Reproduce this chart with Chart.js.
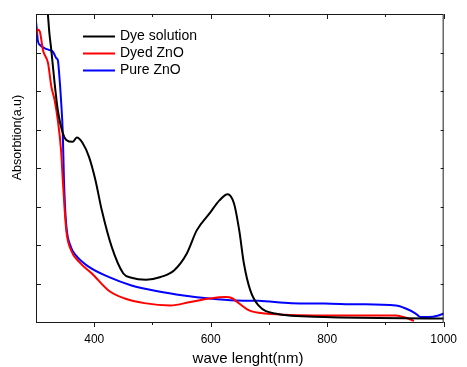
<!DOCTYPE html>
<html lang="en">
<head>
  <meta charset="UTF-8">
  <title>Absorption spectra</title>
  <script src="https://cdn.jsdelivr.net/npm/chart.js"></script>
  <style>
    body { margin: 0; background: #fff; }
  </style>
</head>
<body>
  <canvas id="grafico" width="467" height="367"></canvas>
  <script>
    // wavelength (nm) and absorbance (a.u)
    const dyeWave = [300, 316, 320, 323, 326, 332, 337.5, 346, 352, 363, 370, 380, 391, 402, 413, 430, 450, 464, 489, 514, 537, 559, 576, 598, 615, 629, 640, 649, 657, 668, 682, 710, 795, 1000];
    const dyeAbs  = [8.5, 8.4, 8.05, 7.5, 7.1, 6.2, 5.5, 4.91, 4.73, 4.68, 4.79, 4.65, 4.29, 3.69, 2.90, 1.95, 1.26, 1.15, 1.10, 1.17, 1.34, 1.78, 2.38, 2.82, 3.16, 3.32, 3.08, 2.38, 1.52, 0.82, 0.43, 0.22, 0.13, 0.09];

    const dyedWave = [300, 303, 306.7, 312, 320.7, 326.4, 332, 337.5, 343, 346, 352, 360, 374, 396, 424.5, 452.6, 486, 531, 565, 598, 626, 635, 649, 666, 694, 795, 918, 935, 949];
    const dyedAbs  = [7.41, 7.6, 7.54, 7.06, 6.72, 6.11, 5.76, 5.24, 4.46, 3.69, 2.38, 1.87, 1.56, 1.26, 0.82, 0.61, 0.49, 0.43, 0.52, 0.61, 0.65, 0.63, 0.48, 0.30, 0.22, 0.17, 0.17, 0.11, 0.03];

    const pureWave = [300, 302, 303, 307, 315, 323.5, 329, 335, 337.5, 340, 343, 346, 348, 351.7, 360, 368.5, 391, 424.5, 464, 508.6, 553.6, 598, 643, 682, 738.7, 795, 851, 918, 935, 952, 960, 974, 991, 1000];
    const pureAbs  = [7.80, 7.5, 7.32, 7.19, 7.11, 7.06, 7.02, 6.85, 6.80, 6.41, 5.76, 4.9, 3.69, 2.56, 1.95, 1.73, 1.43, 1.17, 0.95, 0.80, 0.69, 0.61, 0.56, 0.55, 0.49, 0.48, 0.46, 0.43, 0.35, 0.22, 0.13, 0.13, 0.17, 0.22];

    const seriesNames = ['Dye solution', 'Dyed ZnO', 'Pure ZnO'];
    const seriesColors = ['#000000', '#ff0000', '#0000ff'];
    const xTicks = [400, 600, 800, 1000];
    const xMinorTicks = [500, 700, 900];
    const yTicks = [1, 2, 3, 4, 5, 6, 7];

    const fonte = "'Liberation Sans', Arial, sans-serif";

    function pares(xs, ys) {
      return xs.map((x, i) => ({ x, y: ys[i] }));
    }

    // moldura, marcas, legenda e títulos dos eixos
    const moldura = {
      id: 'moldura',
      afterDraw(chart) {
        const { ctx, chartArea: a, scales } = chart;
        const sx = scales.x, sy = scales.y;
        ctx.save();
        ctx.strokeStyle = '#1a1a1a';
        ctx.lineWidth = 1;
        ctx.strokeRect(a.left + 0.5, a.top + 0.5, a.right - a.left - 1, a.bottom - a.top);

        ctx.beginPath();
        xTicks.forEach(v => {
          const px = Math.round(sx.getPixelForValue(v)) + 0.5;
          ctx.moveTo(px, a.bottom); ctx.lineTo(px, a.bottom + 5);
          ctx.moveTo(px, a.top); ctx.lineTo(px, a.top + 5);
        });
        xMinorTicks.forEach(v => {
          const px = Math.round(sx.getPixelForValue(v)) + 0.5;
          ctx.moveTo(px, a.bottom); ctx.lineTo(px, a.bottom + 3);
          ctx.moveTo(px, a.top); ctx.lineTo(px, a.top + 3);
        });
        yTicks.forEach(v => {
          const py = Math.round(sy.getPixelForValue(v)) + 0.5;
          ctx.moveTo(a.left, py); ctx.lineTo(a.left + 5, py);
          ctx.moveTo(a.right, py); ctx.lineTo(a.right - 3, py);
        });
        ctx.stroke();

        // legenda
        ctx.font = '14px ' + fonte;
        ctx.textBaseline = 'middle';
        ctx.textAlign = 'left';
        const linhas = [36.5, 53.5, 70.5];
        seriesNames.forEach((nome, i) => {
          ctx.strokeStyle = seriesColors[i];
          ctx.lineWidth = 2;
          ctx.beginPath();
          ctx.moveTo(83, linhas[i]); ctx.lineTo(115, linhas[i]);
          ctx.stroke();
          ctx.fillStyle = '#000';
          ctx.fillText(nome, 120, linhas[i]);
        });

        // títulos dos eixos
        ctx.fillStyle = '#000';
        ctx.textAlign = 'center';
        ctx.font = '15px ' + fonte;
        ctx.fillText('wave lenght(nm)', 248, 359);
        ctx.translate(18, 137.5);
        ctx.rotate(-Math.PI / 2);
        ctx.font = '12.5px ' + fonte;
        ctx.fillText('Absorbtion(a.u)', 0, 0);
        ctx.restore();
      }
    };

    const datasets = [
      pares(dyeWave, dyeAbs),
      pares(dyedWave, dyedAbs),
      pares(pureWave, pureAbs)
    ].map((data, i) => ({
      label: seriesNames[i],
      data,
      borderColor: seriesColors[i],
      borderWidth: 2,
      pointRadius: 0,
      cubicInterpolationMode: 'monotone',
      fill: false
    }));

    new Chart(document.getElementById('grafico'), {
      type: 'line',
      data: { datasets },
      options: {
        responsive: false,
        animation: false,
        events: [],
        layout: { padding: { top: 14, right: 15, left: 0, bottom: 0 } },
        plugins: { legend: { display: false }, tooltip: { enabled: false } },
        scales: {
          x: {
            type: 'linear',
            min: 300,
            max: 1000,
            afterFit: s => { s.height = 45; },
            afterBuildTicks: s => { s.ticks = xTicks.map(v => ({ value: v })); },
            grid: { display: false, drawTicks: false },
            border: { display: false },
            ticks: {
              padding: 10,
              maxRotation: 0,
              color: '#000',
              font: { family: fonte, size: 12 },
              callback: v => String(v)
            }
          },
          y: {
            min: 0,
            max: 8,
            afterFit: s => { s.width = 36; },
            grid: { display: false, drawTicks: false },
            border: { display: false },
            ticks: { display: false }
          }
        }
      },
      plugins: [moldura]
    });
  </script>
</body>
</html>
